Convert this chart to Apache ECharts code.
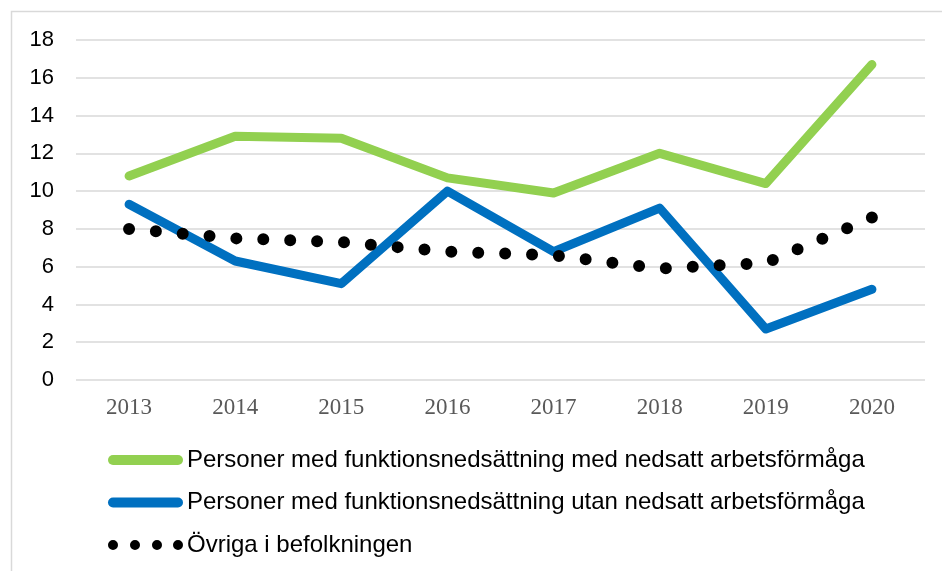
<!DOCTYPE html>
<html><head><meta charset="utf-8">
<script src="https://cdn.jsdelivr.net/npm/echarts@6/dist/echarts.min.js"></script>
<style>html,body{margin:0;padding:0;background:#fff}#c{width:942px;height:571px}</style>
</head><body><div id="c"></div>
<script>
const categories = ['2013','2014','2015','2016','2017','2018','2019','2020'];
const seriesNames = [
  'Personer med funktionsnedsättning med nedsatt arbetsförmåga',
  'Personer med funktionsnedsättning utan nedsatt arbetsförmåga',
  'Övriga i befolkningen'
];
const medNedsatt = [10.8, 12.9, 12.8, 10.7, 9.9, 12.0, 10.4, 16.7];
const utanNedsatt = [9.3, 6.3, 5.1, 10.0, 6.8, 9.1, 2.7, 4.8];
const ovriga = [8.0, 7.5, 7.3, 6.8, 6.6, 5.9, 6.2, 8.6];
const yTicks = {min: 0, max: 18, interval: 2};

const capsule = 'path://M5,0H70A5,5 0 0 1 70,10H5A5,5 0 0 1 5,0Z';
const dots = 'path://M0,5A5,5 0 1 0 10,5A5,5 0 1 0 0,5Z M22,5A5,5 0 1 0 32,5A5,5 0 1 0 22,5Z M44,5A5,5 0 1 0 54,5A5,5 0 1 0 44,5Z M65,5A5,5 0 1 0 75,5A5,5 0 1 0 65,5Z';

const chart = echarts.init(document.getElementById('c'), null, {renderer: 'canvas'});
chart.setOption({
  animation: false,
  graphic: [{type: 'rect', shape: {x: 11.5, y: 11.5, width: 1200, height: 1200}, style: {fill: 'none', stroke: '#d9d9d9', lineWidth: 1.5}, z: -1}],
  grid: {left: 76, right: 17, top: 40, bottom: 191},
  xAxis: {
    type: 'category', data: categories, boundaryGap: true,
    axisLine: {show: false}, axisTick: {show: false},
    axisLabel: {fontFamily: 'Liberation Serif', fontSize: 23, color: '#595959', margin: 16}
  },
  yAxis: {
    type: 'value', min: yTicks.min, max: yTicks.max, interval: yTicks.interval,
    axisLine: {show: false}, axisTick: {show: false},
    axisLabel: {fontFamily: 'Liberation Sans', fontSize: 22, color: '#000', margin: 22},
    splitLine: {lineStyle: {color: '#d9d9d9', width: 1.5}}
  },
  legend: {
    orient: 'vertical', left: 108, top: 447, padding: 0, itemWidth: 75, itemHeight: 10, itemGap: 16.5,
    textStyle: {fontFamily: 'Liberation Sans', fontSize: 24, color: '#000', padding: [0,0,0,-1], lineHeight: 26},
    data: [
      {name: seriesNames[0], icon: capsule},
      {name: seriesNames[1], icon: capsule},
      {name: seriesNames[2], icon: dots}
    ]
  },
  series: [
    {name: seriesNames[0], type: 'line', data: medNedsatt, symbol: 'none', lineStyle: {color: '#92d050', width: 9, cap: 'round', join: 'round'}, itemStyle: {color: '#92d050'}},
    {name: seriesNames[1], type: 'line', data: utanNedsatt, symbol: 'none', lineStyle: {color: '#0070c0', width: 9, cap: 'round', join: 'round'}, itemStyle: {color: '#0070c0'}, z: 3},
    {name: seriesNames[2], type: 'line', data: ovriga, symbol: 'none', lineStyle: {color: '#000', width: 12, type: [0, 26.93], cap: 'round'}, itemStyle: {color: '#000'}, z: 4}
  ]
});
</script></body></html>
